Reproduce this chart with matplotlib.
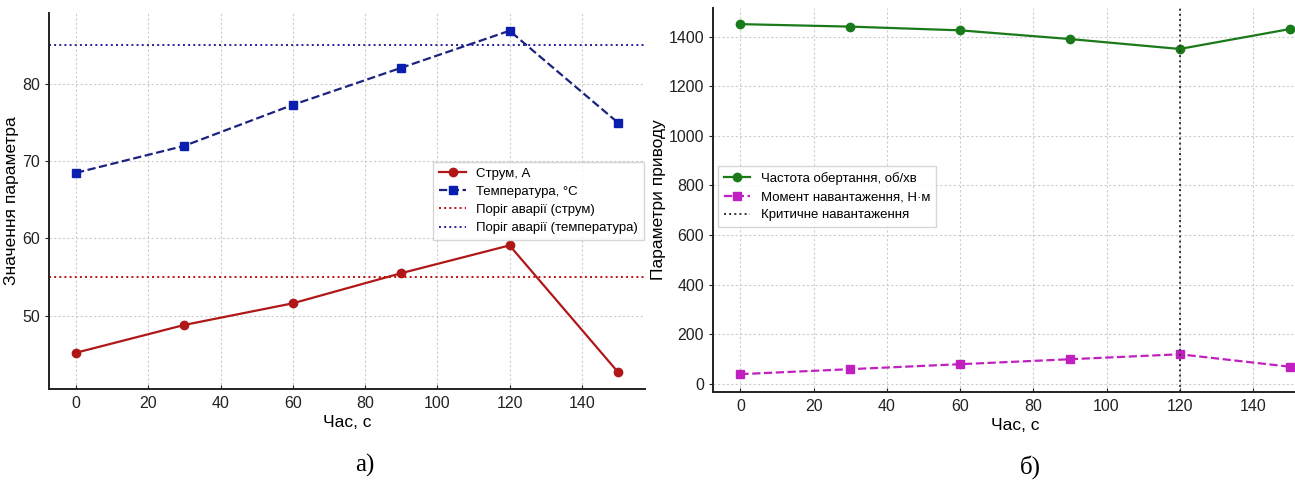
import matplotlib
matplotlib.use("Agg")
import matplotlib.pyplot as plt

time_s = [0, 30, 60, 90, 120, 150]
current_a = [45.2, 48.8, 51.6, 55.5, 59.1, 42.7]
temperature_c = [68.5, 72.0, 77.3, 82.1, 86.9, 75.0]
current_threshold = 55
temp_threshold = 85

speed_rpm = [1450, 1440, 1425, 1390, 1350, 1430]
torque_nm = [40, 60, 80, 100, 120, 70]
critical_time = 120

plt.rcParams['font.family'] = ['Liberation Sans', 'DejaVu Sans']
TICK, LAB, LEG = 11.5, 12.5, 9.5

fig = plt.figure(figsize=(12.95, 4.9), dpi=100)
W, H = 1295, 490

def style(ax):
    ax.grid(True, color='#cccccc', linestyle=(0, (2, 2)), linewidth=0.8)
    for s in ['top', 'right']:
        ax.spines[s].set_visible(False)
    for s in ['left', 'bottom']:
        ax.spines[s].set_linewidth(1.4)
        ax.spines[s].set_color('#222222')
    ax.tick_params(labelsize=TICK, length=3, colors='#222222')
    ax.tick_params(axis='x', direction='in', pad=5)
    ax.set_axisbelow(True)

leg_kw = dict(fontsize=LEG, frameon=True, fancybox=False, edgecolor='#cccccc',
              handlelength=2.0, borderpad=0.45, labelspacing=0.45, borderaxespad=0.0)

# left
ax1 = fig.add_axes([49 / W, 1 - 389 / H, (645 - 49) / W, (389 - 13) / H])
ax1.plot(time_s, current_a, '-o', color='#b01818', markersize=6, linewidth=1.6, label='Струм, А')
ax1.plot(time_s, temperature_c, '--s', color='#1c237e', markerfacecolor='#0a1fb0',
         markeredgecolor='#0a1fb0', markersize=6, linewidth=1.6, label='Температура, °C')
ax1.axhline(current_threshold, color='#c01010', linestyle=':', linewidth=1.4, label='Поріг аварії (струм)')
ax1.axhline(temp_threshold, color='#2020a0', linestyle=':', linewidth=1.4, label='Поріг аварії (температура)')
ax1.set_xlim(-7.5, 157.5)
ax1.set_ylim(40.5, 89.2)
ax1.set_xticks(range(0, 141, 20))
ax1.set_yticks([50, 60, 70, 80])
ax1.set_xlabel('Час, с', fontsize=LAB, labelpad=3)
ax1.set_ylabel('Значення параметра', fontsize=LAB, labelpad=2)
style(ax1)
ax1.legend(loc='upper left', bbox_to_anchor=(0.645, 0.605), **leg_kw)

# right
ax2 = fig.add_axes([713 / W, 1 - 392 / H, (1317 - 713) / W, (392 - 8) / H])
ax2.plot(time_s, speed_rpm, '-o', color='#1a7a1a', markersize=6, linewidth=1.6, label='Частота обертання, об/хв')
ax2.plot(time_s, torque_nm, '--s', color='#c020c0', markersize=6, linewidth=1.6, label='Момент навантаження, Н·м')
ax2.axvline(critical_time, color='#333333', linestyle=':', linewidth=1.4, label='Критичне навантаження')
ax2.set_xlim(-7.5, 157.5)
ax2.set_ylim(-32, 1515)
ax2.set_xticks(range(0, 141, 20))
ax2.set_yticks(range(0, 1401, 200))
ax2.set_xlabel('Час, с', fontsize=LAB, labelpad=3)
ax2.set_ylabel('Параметри приводу', fontsize=LAB, labelpad=2)
style(ax2)
ax2.legend(loc='upper left', bbox_to_anchor=(0.008, 0.588), **leg_kw)

fig.text(365 / W, 1 - 465 / H, 'а)', fontsize=18, family='Liberation Serif', ha='center', va='center')
fig.text(1030 / W, 1 - 467 / H, 'б)', fontsize=18, family='Liberation Serif', ha='center', va='center')

fig.savefig('out.png', dpi=100)
